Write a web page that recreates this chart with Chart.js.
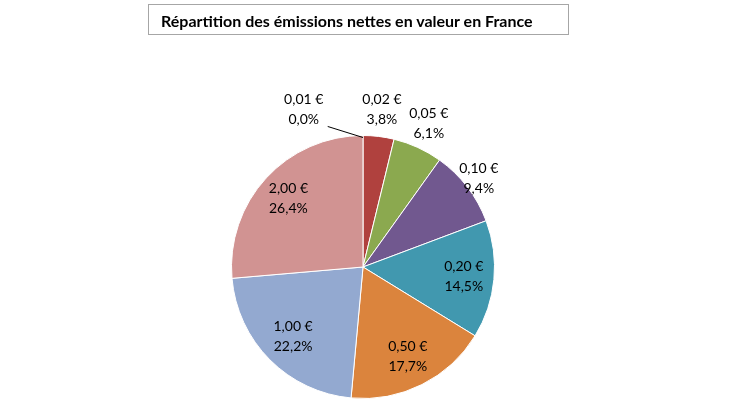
<!DOCTYPE html>
<html>
<head>
<meta charset="utf-8">
<script src="https://cdn.jsdelivr.net/npm/chart.js@4"></script>
<style>
  body { margin: 0; background: #fff; }
  #wrap { position: relative; width: 730px; height: 410px; }
  #titre {
    position: absolute; left: 148px; top: 4px; width: 421px; height: 31px;
    border: 1px solid #a6a6a6; font: bold 16px Lato, sans-serif; color: #000;
    line-height: 31px; padding-left: 12px; box-sizing: border-box;
  }
</style>
</head>
<body>
<div id="wrap">
  <canvas id="grafica" width="730" height="410"></canvas>
  <div id="titre">Répartition des émissions nettes en valeur en France</div>
</div>
<script>
// pièces et parts (%)
const pieces = ["0,01 €", "0,02 €", "0,05 €", "0,10 €", "0,20 €", "0,50 €", "1,00 €", "2,00 €"];
const parts = [0.0, 3.8, 6.1, 9.4, 14.5, 17.7, 22.2, 26.4];
const couleurs = ["#4f81bd", "#b0413e", "#8ba94f", "#71588f", "#4198af", "#db843d", "#93a9d0", "#d19392"];
// distance des étiquettes (fraction du rayon)
const distEtiq = [1.28, 1.21, 1.2, 1.11, 0.77, 0.76, 0.75, 0.77];

const etiquettes = {
  id: "etiquettes",
  afterDatasetsDraw(chart) {
    const ctx = chart.ctx;
    const arcs = chart.getDatasetMeta(0).data;
    ctx.save();
    ctx.font = "14px Lato, sans-serif";
    ctx.fillStyle = "#000";
    ctx.textAlign = "center";
    ctx.textBaseline = "middle";
    arcs.forEach((arc, i) => {
      let ang = (arc.startAngle + arc.endAngle) / 2;
      if (parts[i] === 0) ang -= 0.36;
      const r = arc.outerRadius * distEtiq[i];
      const x = arc.x + Math.cos(ang) * r;
      const y = arc.y + Math.sin(ang) * r;
      ctx.fillText(pieces[i], x, y - 10);
      ctx.fillText(parts[i].toFixed(1).replace(".", ",") + "%", x, y + 10);
      if (parts[i] === 0) {
        ctx.strokeStyle = "#000";
        ctx.lineWidth = 1;
        ctx.beginPath();
        ctx.moveTo(x + 24, y + 17);
        ctx.lineTo(arc.x, arc.y - arc.outerRadius + 2);
        ctx.stroke();
      }
    });
    ctx.restore();
  }
};

new Chart("grafica", {
  type: "pie",
  data: {
    labels: pieces,
    datasets: [{
      data: parts,
      backgroundColor: couleurs,
      borderColor: "#fff",
      borderWidth: 1
    }]
  },
  options: {
    responsive: false,
    animation: false,
    layout: { padding: { top: 135, bottom: 11, left: 231, right: 235 } },
    plugins: { legend: { display: false }, tooltip: { enabled: false } }
  },
  plugins: [etiquettes]
});
</script>
</body>
</html>
